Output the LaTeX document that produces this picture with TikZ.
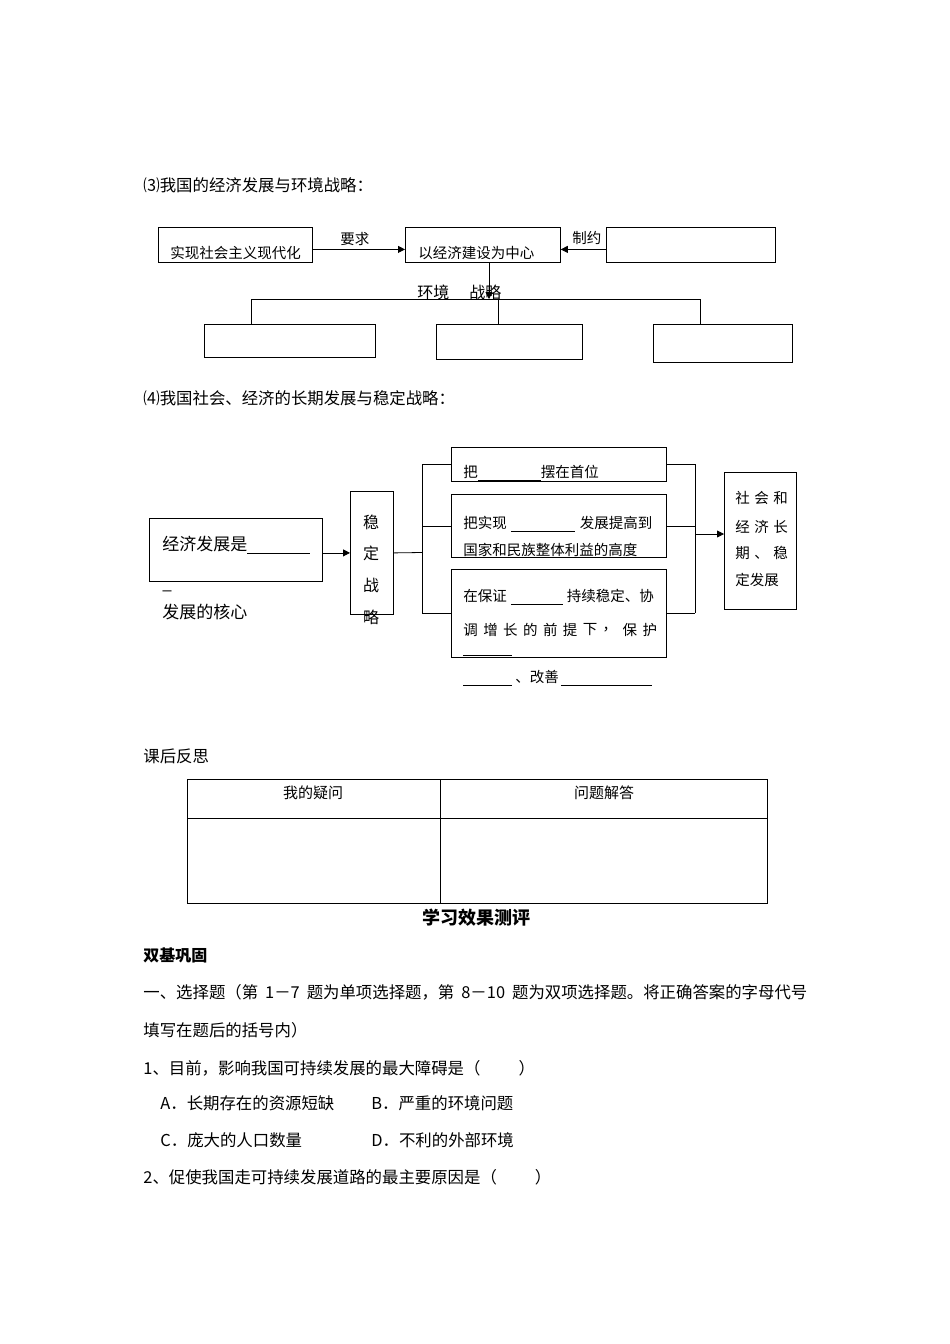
\documentclass[tikz,border=0pt]{standalone}
\usepackage{fontspec}
\setmainfont{Noto Sans CJK SC}
\usetikzlibrary{arrows.meta}
\newcommand{\blankline}[1]{\rule[-2.5pt]{#1pt}{0.6pt}}
\newcommand{\wsp}{\hspace{7pt}}
\begin{document}
\begin{tikzpicture}[x=1pt,y=-1pt,line width=0.8pt,
  box/.style={draw,anchor=north west,inner sep=0pt},
  txt/.style={anchor=west,inner sep=0pt,font=\fontsize{14.5}{14.5}\selectfont},
  big/.style={anchor=west,inner sep=0pt,font=\fontsize{16}{16}\selectfont},
  bodytxt/.style={anchor=west,inner sep=0pt,font=\fontsize{16.4}{16.4}\selectfont},
  arr/.style={-{Triangle[length=7pt,width=7pt]}}]
\useasboundingbox[fill=white] (0,0) rectangle (950,1344);

% ---------- section 3 ----------
\node[bodytxt] (t3) at (143,185) {⑶我国的经济发展与环境战略：};
\node[box,minimum width=154pt,minimum height=35pt] (A) at (158,227) {};
\node[box,minimum width=155pt,minimum height=35pt] (B) at (405,227) {};
\node[box,minimum width=169pt,minimum height=35pt] (C) at (606,227) {};
\node[txt] (At) at (170,253) {实现社会主义现代化};
\node[txt] (Bt) at (418,253) {以经济建设为中心};
\node[txt] (req) at (340,239) {要求};
\node[txt] (lim) at (572,238) {制约};
\draw[arr] ([yshift=-4.5pt]A.east) -- ([yshift=-4.5pt]B.west);
\draw[arr] ([yshift=-4.5pt]C.west) -- ([yshift=-4.5pt]B.east);
\coordinate (J) at (489,299);
\draw[arr] (B.south -| J) -- (J);
\node[big] (env) at (417,292) {环境};
\node[big] (str) at (469,292) {战略};
\node[box,minimum width=171pt,minimum height=33pt] (D1) at (204,324) {};
\node[box,minimum width=146pt,minimum height=35pt] (D2) at (436,324) {};
\node[box,minimum width=139pt,minimum height=38pt] (D3) at (653,324) {};
\coordinate (L) at (251,299);
\coordinate (R) at (700,299);
\coordinate (M) at (498,299);
\draw (D1.north -| L) -- (L) -- (R) -- (D3.north -| R);
\draw (M) -- (D2.north -| M);

% ---------- section 4 ----------
\node[bodytxt] (t4) at (143,398) {⑷我国社会、经济的长期发展与稳定战略：};
\node[box,minimum width=173pt,minimum height=63pt] (E) at (149,518) {};
\node[anchor=west,inner sep=0pt,font=\fontsize{17}{17}\selectfont] (Et) at (162,545) {经济发展是\blankline{63}};
\node[anchor=base west,inner sep=0pt,font=\fontsize{17}{17}\selectfont] (Eu) at (162,589) {\_};
\node[anchor=west,inner sep=0pt,font=\fontsize{17}{17}\selectfont] (Ec) at (162,612) {发展的核心};
\node[box,minimum width=43pt,minimum height=123pt] (F) at (350,491) {};
\node[big,anchor=center] (F1) at (371,522) {稳};
\node[big,anchor=center] (F2) at (371,553) {定};
\node[big,anchor=center] (F3) at (371,585) {战};
\node[big,anchor=center] (F4) at (371,617) {略};
\draw[arr] (E.east |- F.west) -- (F.west);
\coordinate (S) at (422,552.5);
\draw (F.east) -- (S);
\node[box,minimum width=215pt,minimum height=34pt] (G1) at (451,447) {};
\node[box,minimum width=215pt,minimum height=63pt] (G2) at (451,494) {};
\node[box,minimum width=215pt,minimum height=88pt] (G3) at (451,569) {};
\draw (G1.west -| S) -- (G3.west -| S);
\draw (G1.west -| S) -- (G1.west);
\draw (G2.west -| S) -- (G2.west);
\draw (G3.west -| S) -- (G3.west);
\node[box,minimum width=72pt,minimum height=137pt] (H) at (724,472) {};
\coordinate (T) at (695,534);
\draw (G1.east) -- (G1.east -| T);
\draw (G2.east) -- (G2.east -| T);
\draw (G3.east) -- (G3.east -| T);
\draw (G1.east -| T) -- (G3.east -| T);
\draw[arr] (T) -- (T -| H.west);

\node[txt] (g1) at (463,473) {把\blankline{63}摆在首位};
\node[txt] (g2a) at (463,524) {把实现\hspace{4pt}\blankline{64}\hspace{5pt}发展提高到};
\node[txt] (g2b) at (463,550) {国家和民族整体利益的高度};
\node[txt] (g3a) at (463,597) {在保证\hspace{4pt}\blankline{52}\hspace{4pt}持续稳定、协};
\foreach \c [count=\i from 0] in {调,增,长,的,前,提,下,，,保,护}
  \node[txt] (g3c\i) at (463+\i*19.9,630) {\c};
\node[txt] (g3u) at (463,654) {\blankline{49}};
\node[txt] (g3d) at (463,678) {\blankline{49}\hspace{3pt}、改善\hspace{2pt}\blankline{91}};

\node[txt] (h1) at (735,498) {社\hspace{4.5pt}会\hspace{4.5pt}和};
\node[txt] (h2) at (735,527) {经\hspace{4.5pt}济\hspace{4.5pt}长};
\node[txt] (h3) at (735,553) {期\hspace{4.5pt}、\hspace{4.5pt}稳};
\node[txt] (h4) at (735,580) {定发展};

% ---------- reflection table ----------
\node[bodytxt] (refl) at (143,756) {课后反思};
\node[box,minimum width=580pt,minimum height=124pt] (tbl) at (187,779) {};
\coordinate (hh) at (0,818);
\coordinate (dd) at (440,0);
\draw (tbl.west |- hh) -- (tbl.east |- hh);
\draw (tbl.north -| dd) -- (tbl.south -| dd);
\node[inner sep=0pt,font=\fontsize{15}{15}\selectfont] (th1) at (313,793) {我的疑问};
\node[inner sep=0pt,font=\fontsize{15}{15}\selectfont] (th2) at (604,793) {问题解答};

% ---------- test ----------
\node[inner sep=0pt,font=\fontsize{18}{18}\selectfont\bfseries] (ttl) at (476,918) {学习效果测评};
\node[bodytxt,font=\fontsize{16}{16}\selectfont\bfseries] (sj) at (143,955) {双基巩固};
\node[bodytxt] (q0a) at (143,992) {一、选择题（第\wsp 1－7\wsp 题为单项选择题，第\wsp 8－10\wsp 题为双项选择题。将正确答案的字母代号};
\node[bodytxt] (q0b) at (143,1030) {填写在题后的括号内）};
\node[bodytxt] (q1) at (143,1068) {1、目前，影响我国可持续发展的最大障碍是（\hspace{38pt}）};
\node[bodytxt] (q1a) at (160,1103) {A．长期存在的资源短缺};
\node[bodytxt] (q1b) at (371,1103) {B．严重的环境问题};
\node[bodytxt] (q1c) at (160,1140) {C．庞大的人口数量};
\node[bodytxt] (q1d) at (371,1140) {D．不利的外部环境};
\node[bodytxt] (q2) at (143,1177) {2、促使我国走可持续发展道路的最主要原因是（\hspace{38pt}）};
\end{tikzpicture}
\end{document}
